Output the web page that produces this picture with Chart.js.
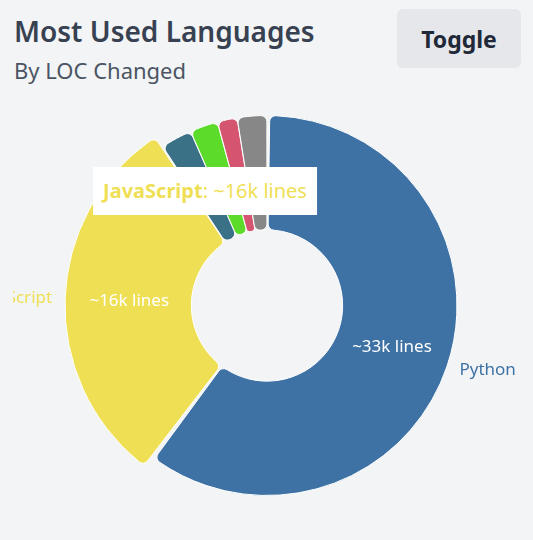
<!DOCTYPE html>
<html><head><meta charset="utf-8">
<script src="https://cdn.jsdelivr.net/npm/chart.js@4/dist/chart.umd.min.js"></script>
<style>
html,body{margin:0;padding:0;background:#f3f4f6;width:533px;height:540px;overflow:hidden;font-family:"Noto Sans",sans-serif;}
#title{position:absolute;left:14px;top:13px;font-size:28px;font-weight:600;color:#374151;line-height:36px;white-space:nowrap}
#subtitle{position:absolute;left:14px;top:56px;font-size:22px;color:#4b5563;line-height:28px;white-space:nowrap}
#toggle{position:absolute;left:397px;top:9px;width:124px;height:59px;background:#e5e7eb;border:none;border-radius:6px;font-family:"Noto Sans",sans-serif;font-size:23px;font-weight:700;color:#1f2937;padding:0}
#wrap{position:absolute;left:13px;top:105px;width:508px;height:400px}
#tip{position:absolute;background:#fff;padding:12px 10px;white-space:nowrap;font-size:20px;line-height:24px;pointer-events:none;transform:translate(-50%,-100%);opacity:0}
</style></head>
<body>
<div id="title">Most Used Languages</div>
<div id="subtitle">By LOC Changed</div>
<button id="toggle">Toggle</button>
<div id="wrap"><canvas id="c"></canvas><div id="tip"></div></div>
<script>
const labels = ['Python', 'JavaScript', 'TypeScript', 'Shell', 'HTML', 'Other'];
const values = [32600, 16450, 1440, 1290, 910, 1360];
const colors = ['#3e72a5', '#efdf55', '#3b7186', '#5ddb2a', '#d5546f', '#878787'];
const activeIndex = 1;
const cursorPos = {x: 192, y: 110};

function fmt(v){ return '~' + Math.round(v / 1000) + 'k lines'; }
const total = values.reduce((a, b) => a + b, 0);

const hoverGrow = {
  id: 'hoverGrow',
  afterDatasetsUpdate(chart){
    const el = chart.getDatasetMeta(0).data[activeIndex];
    if (el) el.outerRadius += 12;
  }
};

const arcLabels = {
  id: 'arcLabels',
  afterDatasetsDraw(chart){
    const ctx = chart.ctx;
    const meta = chart.getDatasetMeta(0);
    meta.data.forEach((arc, i) => {
      if (values[i] / total < 0.1) return;
      const p = arc.getProps(['x','y','startAngle','endAngle','innerRadius','outerRadius'], true);
      const mid = (p.startAngle + p.endAngle) / 2;
      const rIn = (p.innerRadius + p.outerRadius) / 2;
      ctx.save();
      ctx.font = '17px "Noto Sans"';
      ctx.textBaseline = 'middle';
      ctx.textAlign = 'center';
      ctx.fillStyle = '#ffffff';
      ctx.fillText(fmt(values[i]), p.x + Math.cos(mid) * rIn, p.y + Math.sin(mid) * rIn);
      const rOut = p.outerRadius + 14;
      const cx = Math.cos(mid);
      ctx.fillStyle = colors[i];
      ctx.textAlign = cx >= 0 ? 'left' : 'right';
      ctx.fillText(labels[i], p.x + cx * rOut, p.y + Math.sin(mid) * rOut);
      ctx.restore();
    });
  }
};

Chart.Tooltip.positioners.cursor = function(items, eventPosition){ return eventPosition; };

const tipEl = document.getElementById('tip');
function externalTip({chart, tooltip}){
  if (tooltip.opacity === 0 || !tooltip.dataPoints || !tooltip.dataPoints.length){ tipEl.style.opacity = 0; return; }
  const i = tooltip.dataPoints[0].dataIndex;
  tipEl.style.color = colors[i];
  tipEl.innerHTML = '<b>' + labels[i] + '</b>: ' + fmt(values[i]);
  tipEl.style.left = tooltip.caretX + 'px';
  tipEl.style.top = tooltip.caretY + 'px';
  tipEl.style.opacity = 1;
}

const chart = new Chart(document.getElementById('c'), {
  type: 'doughnut',
  data: {
    labels: labels,
    datasets: [{
      data: values,
      backgroundColor: colors,
      hoverBackgroundColor: colors,
      borderColor: '#ffffff',
      hoverBorderColor: '#ffffff',
      borderWidth: 1,
      hoverBorderWidth: 1,
      borderRadius: 6,
      spacing: 2,
      hoverOffset: 0
    }]
  },
  options: {
    responsive: true,
    maintainAspectRatio: false,
    animation: false,
    cutout: '39.5%',
    layout: {padding: {top: 10, bottom: 9, left: 0, right: 0}},
    events: [],
    plugins: {
      legend: {display: false},
      title: {display: false},
      tooltip: {enabled: false, position: 'cursor', external: externalTip}
    }
  },
  plugins: [hoverGrow, arcLabels]
});

chart.setActiveElements([{datasetIndex: 0, index: activeIndex}]);
chart.update('none');
chart.tooltip.setActiveElements([{datasetIndex: 0, index: activeIndex}], cursorPos);
</script>
</body></html>
